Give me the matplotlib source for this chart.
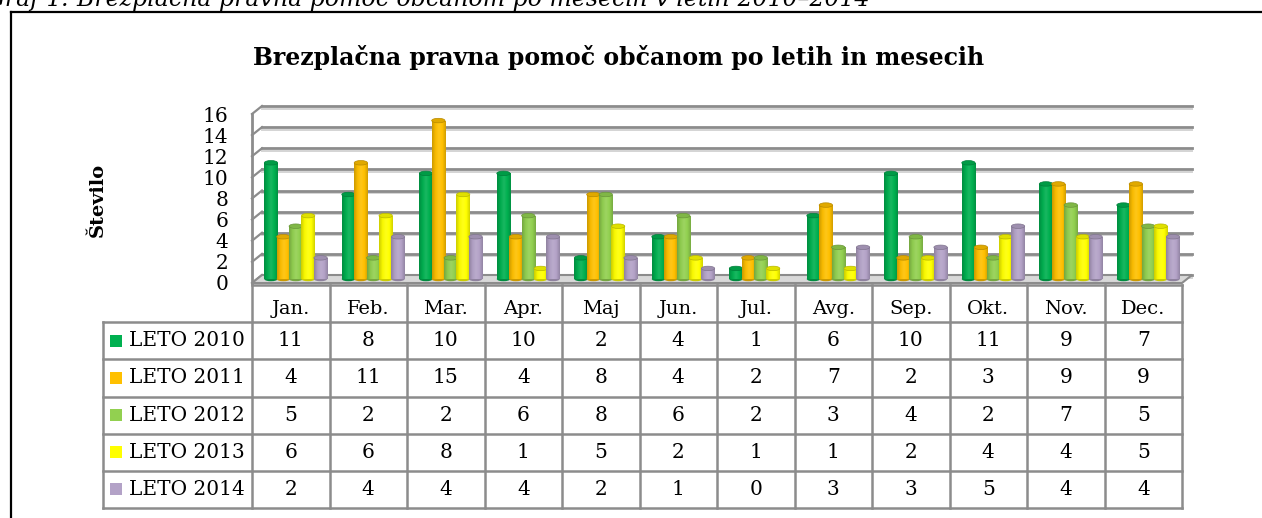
import matplotlib
matplotlib.use('Agg')
import matplotlib.pyplot as plt
import matplotlib.transforms as mtransforms
from matplotlib.colors import LinearSegmentedColormap, to_rgb
from matplotlib.patches import Ellipse, Polygon
import numpy as np

months = ['Jan.', 'Feb.', 'Mar.', 'Apr.', 'Maj', 'Jun.', 'Jul.', 'Avg.', 'Sep.', 'Okt.', 'Nov.', 'Dec.']
series_names = ['LETO 2010', 'LETO 2011', 'LETO 2012', 'LETO 2013', 'LETO 2014']
leto_2010 = [11, 8, 10, 10, 2, 4, 1, 6, 10, 11, 9, 7]
leto_2011 = [4, 11, 15, 4, 8, 4, 2, 7, 2, 3, 9, 9]
leto_2012 = [5, 2, 2, 6, 8, 6, 2, 3, 4, 2, 7, 5]
leto_2013 = [6, 6, 8, 1, 5, 2, 1, 1, 2, 4, 4, 5]
leto_2014 = [2, 4, 4, 4, 2, 1, 0, 3, 3, 5, 4, 4]
series = [leto_2010, leto_2011, leto_2012, leto_2013, leto_2014]
colors = ['#00B050', '#FFC000', '#92D050', '#FFFF00', '#B3A2C7']
yticks = list(range(0, 17, 2))

title = 'Brezplačna pravna pomoč občanom po letih in mesecih'
caption = 'Graf 1: Brezplačna pravna pomoč občanom po mesecih v letih 2010–2014'

W, H = 1262, 518
plt.rcParams['font.family'] = 'DejaVu Serif'
GRID = '#8c8c8c'


def fx(px):
    return px / W


def fy(py):
    return 1 - py / H


def shade(c, f):
    r, g, b = to_rgb(c)
    if f < 1:
        return (r * f, g * f, b * f)
    t = f - 1
    return (r + (1 - r) * t, g + (1 - g) * t, b + (1 - b) * t)


fig = plt.figure(figsize=(W / 100, H / 100), dpi=100)

# outer frame (cut-off page figure)
fig.add_artist(plt.Line2D([fx(11), fx(11)], [fy(12), 0], color='black', lw=1.6))
fig.add_artist(plt.Line2D([fx(11), 1], [fy(12), fy(12)], color='black', lw=1.6))
fig.text(fx(-14), fy(6), caption, fontsize=17, style='italic', va='baseline', ha='left')

fig.text(fx(619), fy(57), title, fontsize=17, fontweight='bold', ha='center', va='center')
fig.text(fx(98), fy(200), 'Število', fontsize=14, fontweight='bold', rotation=90,
         ha='center', va='center')

# ---- chart ----
ax = fig.add_axes([fx(252), fy(283), fx(930), 169 / H])
n = len(months)
ax.set_xlim(-0.5, n - 0.5)
ax.set_ylim(0, 16)
for s in ax.spines.values():
    s.set_visible(False)
ax.set_xticks([])
ax.set_yticks(yticks)
ax.tick_params(axis='y', length=0, pad=17, labelsize=14.5)
ax.patch.set_alpha(0)

back = mtransforms.offset_copy(ax.transData, fig=fig, x=10, y=8, units='dots')
back_lo = mtransforms.offset_copy(ax.transData, fig=fig, x=10, y=5.5, units='dots')
mid = mtransforms.offset_copy(ax.transData, fig=fig, x=5, y=4, units='dots')

# floor
inv = ax.transData.inverted()
fl = ax.transData.transform([(-0.5, 0), (n - 0.5, 0)])
bl = inv.transform(fl + np.array([10, 8]))
floor = Polygon([(-0.5, 0), (n - 0.5, 0), tuple(bl[1]), tuple(bl[0])], closed=True,
                facecolor='#d9d9d9', edgecolor=GRID, lw=1.5, clip_on=False, zorder=1)
ax.add_patch(floor)

# back wall gridlines and left wall
for v in yticks:
    ax.plot([-0.5, n - 0.5], [v, v], color='#d4d4d4', lw=1.4, transform=back_lo,
            clip_on=False, zorder=0.5)
    ax.plot([-0.5, n - 0.5], [v, v], color=GRID, lw=2.0, transform=back,
            clip_on=False, zorder=0.6)
    p0 = ax.transData.transform((-0.5, v))
    p1 = inv.transform(p0 + np.array([10, 8]))
    ax.plot([-0.5, p1[0]], [v, p1[1]], color=GRID, lw=1.6, clip_on=False, zorder=0.6)
ax.plot([-0.5, -0.5], [0, 16], color=GRID, lw=2.0, clip_on=False, zorder=0.7)

# cylinders
step = 0.16
bw = 0.172
cap_h = 4.5 / (169 / 16)
x = np.arange(n)
for i, (vals, c) in enumerate(zip(series, colors)):
    cmap = LinearSegmentedColormap.from_list(
        'cyl%d' % i, [shade(c, 0.8), shade(c, 0.97), shade(c, 1.1), shade(c, 1.0), shade(c, 0.82)])
    xs = x - 0.4 + (i + 0.5) * step
    z = 3 + i * 0.1
    bars = ax.bar(xs, vals, width=bw, color=c, transform=mid, zorder=z, lw=0)
    for xc, v, rect in zip(xs, vals, bars):
        if v <= 0:
            continue
        im = ax.imshow(np.linspace(0, 1, 64).reshape(1, -1), cmap=cmap, aspect='auto',
                       extent=(xc - bw / 2, xc + bw / 2, 0, v), transform=mid,
                       zorder=z + 0.01, interpolation='bilinear')
        im.set_clip_path(rect)
        ax.add_patch(Ellipse((xc, 0), bw, cap_h, facecolor=shade(c, 0.8), lw=0,
                             transform=mid, zorder=z - 0.01))
        ax.add_patch(Ellipse((xc, v), bw, cap_h, facecolor=shade(c, 0.88),
                             edgecolor=shade(c, 0.72), lw=0.5, transform=mid,
                             zorder=z + 0.02))
ax.set_xlim(-0.5, n - 0.5)
ax.set_ylim(0, 16)

# ---- data table ----
tax = fig.add_axes([fx(103), fy(508), fx(1182 - 103), 223 / H])
lab_w = 149 / (930 / n)
tax.set_xlim(-0.5 - lab_w, n - 0.5)
tax.set_ylim(len(series) - 0.5, -1.5)
tax.axis('off')
lc = dict(color=GRID, lw=1.8, solid_capstyle='projecting', clip_on=False)
tax.plot([-0.5, n - 0.5], [-1.5, -1.5], **lc)
for r in range(len(series) + 1):
    tax.plot([-0.5 - lab_w, n - 0.5], [r - 0.5, r - 0.5], **lc)
tax.plot([-0.5 - lab_w, -0.5 - lab_w], [-0.5, len(series) - 0.5], **lc)
for k in range(n + 1):
    tax.plot([k - 0.5, k - 0.5], [-1.5, len(series) - 0.5], **lc)
for j, m in enumerate(months):
    tax.text(j, -0.85, m, ha='center', va='center', fontsize=14)
for r, (name, vals, c) in enumerate(zip(series_names, series, colors)):
    tax.scatter([-0.5 - lab_w + 0.17], [r], marker='s', s=85, color=c, lw=0)
    tax.text(-0.5 - lab_w + 0.33, r, name, ha='left', va='center', fontsize=14.5)
    for j, v in enumerate(vals):
        tax.text(j, r, str(v), ha='center', va='center', fontsize=14.5)

fig.savefig('out.png', dpi=100)
